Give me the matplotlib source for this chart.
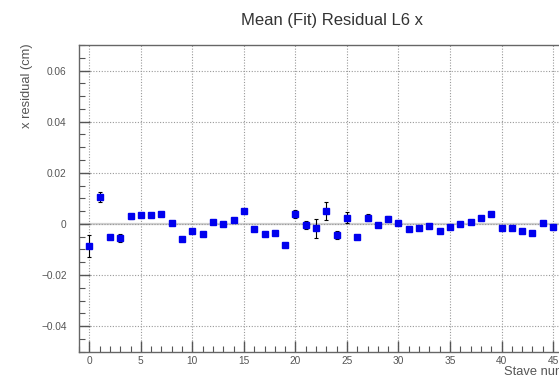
import matplotlib
matplotlib.use("Agg")
import matplotlib.pyplot as plt
from matplotlib.ticker import MultipleLocator

plt.rcParams['font.family'] = ['Liberation Sans', 'DejaVu Sans']

staves = list(range(0, 47))
residual = [-0.0086, 0.0104, -0.0053, -0.0055, 0.0029, 0.0035, 0.0035, 0.0039, 0.0005, -0.0060,
            -0.0027, -0.0040, 0.0006, -0.0001, 0.0016, 0.0052, -0.0021, -0.0040, -0.0036, -0.0082,
            0.0038, -0.0004, -0.0017, 0.0050, -0.0043, 0.0025, -0.0052, 0.0025, -0.0004, 0.0021,
            0.0005, -0.0020, -0.0017, -0.0008, -0.0027, -0.0013, 0.0000, 0.0009, 0.0022, 0.0038,
            -0.0017, -0.0017, -0.0027, -0.0034, 0.0003, -0.0014, -0.0020]
errors = [0.0043, 0.0020, 0.0008, 0.0015, 0.0008, 0.0008, 0.0008, 0.0008, 0.0008, 0.0008,
          0.0008, 0.0008, 0.0008, 0.0008, 0.0008, 0.0008, 0.0008, 0.0008, 0.0008, 0.0008,
          0.0015, 0.0015, 0.0037, 0.0034, 0.0015, 0.0020, 0.0008, 0.0015, 0.0008, 0.0008,
          0.0008, 0.0008, 0.0008, 0.0008, 0.0008, 0.0008, 0.0008, 0.0008, 0.0008, 0.0008,
          0.0008, 0.0008, 0.0008, 0.0008, 0.0008, 0.0008, 0.0008]

title = "Mean (Fit) Residual L6 x"
xlabel = "Stave number"
ylabel = "x residual (cm)"

W, H = 559, 376
fig = plt.figure(figsize=(W / 100, H / 100), dpi=100)
left, right, top, bottom = 79, 584, 45, 351.7
ax = fig.add_axes([left / W, 1 - bottom / H, (right - left) / W, (bottom - top) / H])

ax.set_xlim(-1, 48)
ax.set_ylim(-0.05, 0.07)

ax.axhline(0, color='#d0d0d0', lw=1.6, zorder=1)
ax.grid(True, which='major', color='#999999', linestyle=(0, (1, 1.5)), lw=0.8, zorder=1)

ax.errorbar(staves, residual, yerr=errors, fmt='s', color='#0000ee', ms=4.6,
            ecolor='black', elinewidth=0.8, capsize=1.5, capthick=0.8, zorder=3)

ax.xaxis.set_major_locator(MultipleLocator(5))
ax.xaxis.set_minor_locator(MultipleLocator(1))
ax.yaxis.set_major_locator(MultipleLocator(0.02))
ax.yaxis.set_minor_locator(MultipleLocator(0.005))

ax.yaxis.set_major_formatter(plt.FuncFormatter(lambda v, p: "0" if abs(v) < 1e-9 else f"{v:.2f}".replace("-", "\u2212")))

ax.tick_params(which='both', direction='in', colors='#555555', labelcolor='#555555',
               labelsize=7.3, top=False, right=False)
ax.tick_params(which='major', length=8, width=1)
ax.tick_params(which='minor', length=4, width=0.8)
ax.tick_params(axis='y', pad=9)
ax.tick_params(axis='x', pad=3)

for s in ax.spines.values():
    s.set_color('#666666')
    s.set_linewidth(1.0)

fig.text((left + right) / 2 / W, 1 - 20 / H, title, ha='center', va='center',
         fontsize=12, color='#333333')
fig.text(27 / W, 1 - 43 / H, ylabel, rotation=90, ha='center', va='top',
         fontsize=9.3, color='#555555')
fig.text(right / W, 1 - 372 / H, xlabel, ha='right', va='center',
         fontsize=9.3, color='#555555')

fig.savefig("out.png", dpi=100)
